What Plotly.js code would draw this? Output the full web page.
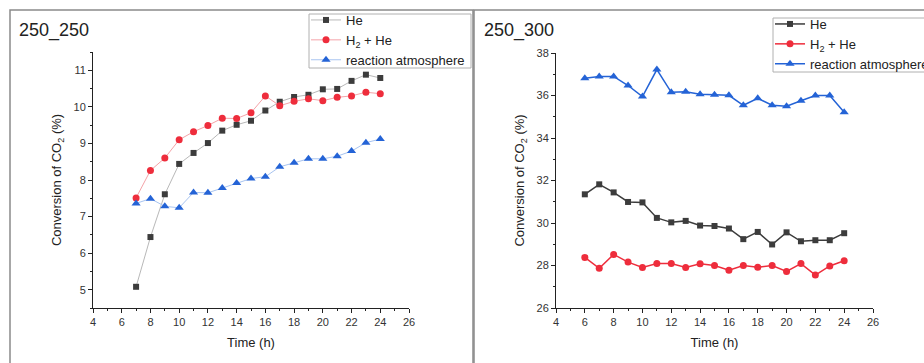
<!DOCTYPE html>
<html>
<head>
<meta charset="utf-8">
<script src="https://cdn.plot.ly/plotly-3.0.1.min.js"></script>
<style>html,body{margin:0;padding:0;background:#fff;}#chart{width:924px;height:363px;}</style>
</head>
<body>
<div id="chart"></div>
<script>
// Panel 250_250
const timeA = [7,8,9,10,11,12,13,14,15,16,17,18,19,20,21,22,23,24];
const heA = [5.08,6.44,7.61,8.44,8.74,9.01,9.35,9.51,9.62,9.90,10.14,10.27,10.33,10.48,10.49,10.71,10.88,10.79];
const h2heA = [7.51,8.26,8.60,9.10,9.32,9.49,9.69,9.68,9.84,10.30,10.03,10.15,10.22,10.17,10.26,10.30,10.40,10.36];
const reactA = [7.36,7.49,7.28,7.24,7.66,7.65,7.78,7.92,8.04,8.09,8.36,8.47,8.58,8.58,8.65,8.79,9.02,9.12];
// Panel 250_300
const timeB = [6,7,8,9,10,11,12,13,14,15,16,17,18,19,20,21,22,23,24];
const heB = [31.35,31.82,31.44,30.99,30.97,30.24,30.03,30.10,29.88,29.86,29.74,29.24,29.58,28.99,29.56,29.14,29.19,29.19,29.52];
const h2heB = [28.38,27.87,28.52,28.16,27.91,28.09,28.09,27.91,28.08,28.00,27.78,28.00,27.92,28.00,27.72,28.09,27.55,27.98,28.22];
const reactB = [36.81,36.89,36.90,36.47,35.95,37.22,36.15,36.18,36.06,36.03,36.01,35.54,35.87,35.54,35.50,35.75,36.00,36.00,35.21];
const seriesNames = ["He", "H<sub>2</sub> + He", "reaction atmosphere"];
const panelLabels = ["250_250", "250_300"];

const FONT = "Liberation Sans, Arial, sans-serif";
const mk = {
  He: {color:"#3c3c3c", symbol:"square", size:6},
  H2: {color:"#ee2d3c", symbol:"circle", size:7},
  RA: {color:"#2463d6", symbol:"triangle-up", size:8}
};

function tr(x, y, name, m, lineColor, lw, xa, ya, leg) {
  return {
    x: x, y: y, name: name, type: "scatter", mode: "lines+markers",
    xaxis: xa, yaxis: ya, legend: leg, cliponaxis: false,
    line: {color: lineColor, width: lw},
    marker: {color: m.color, symbol: m.symbol, size: m.size}
  };
}

const data = [
  tr(timeA, heA, seriesNames[0], mk.He, "#b8b8b8", 1, "x", "y", "legend"),
  tr(timeA, h2heA, seriesNames[1], mk.H2, "#f4a3a8", 1, "x", "y", "legend"),
  tr(timeA, reactA, seriesNames[2], mk.RA, "#a8c4f0", 1, "x", "y", "legend"),
  tr(timeB, heB, seriesNames[0], mk.He, "#3c3c3c", 1.5, "x2", "y2", "legend2"),
  tr(timeB, h2heB, seriesNames[1], mk.H2, "#ee2d3c", 1.5, "x2", "y2", "legend2"),
  tr(timeB, reactB, seriesNames[2], mk.RA, "#2463d6", 1.5, "x2", "y2", "legend2")
];

const W = 924, H = 363;
function axisCommon() {
  return {
    showline: true, linecolor: "#222", linewidth: 1, mirror: false,
    ticks: "outside", ticklen: 4, tickcolor: "#222", tickwidth: 1,
    showgrid: false, zeroline: false,
    tickfont: {family: FONT, size: 11, color: "#333"},
    title: {font: {family: FONT, size: 13, color: "#222"}}
  };
}
const xa = Object.assign(axisCommon(), {
  domain: [93/W, 409/W], range: [4, 26], dtick: 2, tick0: 0, anchor: "y",
  minor: {dtick: 1, ticks: "outside", ticklen: 2, tickcolor: "#222"}
});
xa.title.text = "Time (h)"; xa.title.standoff = 10;
const ya = Object.assign(axisCommon(), {
  domain: [1-308/H, 1-52/H], range: [4.5, 11.5], dtick: 1, tick0: 0, anchor: "x",
  minor: {dtick: 0.5, ticks: "outside", ticklen: 2, tickcolor: "#222"}
});
ya.title.text = "Conversion of CO<sub>2</sub> (%)"; ya.title.standoff = 8;
const xb = Object.assign(axisCommon(), {
  domain: [556/W, 873/W], range: [4, 26], dtick: 2, tick0: 0, anchor: "y2",
  minor: {dtick: 1, ticks: "outside", ticklen: 2, tickcolor: "#222"}
});
xb.title.text = "Time (h)"; xb.title.standoff = 10;
const yb = Object.assign(axisCommon(), {
  domain: [1-308/H, 1-53/H], range: [26, 38], dtick: 2, tick0: 0, anchor: "x2",
  minor: {dtick: 1, ticks: "outside", ticklen: 2, tickcolor: "#222"}
});
yb.title.text = "Conversion of CO<sub>2</sub> (%)"; yb.title.standoff = 8;

const legBase = {
  bgcolor: "rgba(0,0,0,0)", borderwidth: 0,
  font: {family: FONT, size: 13, color: "#222"},
  xanchor: "left", yanchor: "top", tracegroupgap: 0, itemwidth: 30
};

const layout = {
  width: W, height: H,
  margin: {l: 0, r: 0, t: 0, b: 0, autoexpand: false},
  paper_bgcolor: "#fff", plot_bgcolor: "#fff",
  showlegend: true,
  xaxis: xa, yaxis: ya, xaxis2: xb, yaxis2: yb,
  legend: Object.assign({}, legBase, {x: 306/W, y: 1-5/H}),
  legend2: Object.assign({}, legBase, {x: 770/W, y: 1-9/H}),
  shapes: [
    {type: "rect", xref: "paper", yref: "paper", x0: 10/W, x1: 473/W, y0: -0.05, y1: 1-10/H,
     line: {color: "#8a8a8a", width: 1.5}, layer: "below"},
    {type: "rect", xref: "paper", yref: "paper", x0: 474/W, x1: 1.05, y0: -0.05, y1: 1-10/H,
     line: {color: "#8a8a8a", width: 1.5}, layer: "below"},
    {type: "rect", xref: "paper", yref: "paper", x0: 309/W, x1: 471/W, y0: 1-68/H, y1: 1-14/H,
     line: {color: "#b0b0b0", width: 1}, fillcolor: "#fff", layer: "below"},
    {type: "rect", xref: "paper", yref: "paper", x0: 773/W, x1: 1.05, y0: 1-72/H, y1: 1-18/H,
     line: {color: "#b0b0b0", width: 1}, fillcolor: "#fff", layer: "below"}
  ],
  annotations: [
    {text: panelLabels[0], xref: "paper", yref: "paper", x: 17/W, y: 1-31/H,
     xanchor: "left", yanchor: "middle", showarrow: false,
     font: {family: FONT, size: 18, color: "#222"}},
    {text: panelLabels[1], xref: "paper", yref: "paper", x: 482/W, y: 1-31/H,
     xanchor: "left", yanchor: "middle", showarrow: false,
     font: {family: FONT, size: 18, color: "#222"}}
  ]
};

Plotly.newPlot("chart", data, layout, {displayModeBar: false, staticPlot: true});
</script>
</body>
</html>
